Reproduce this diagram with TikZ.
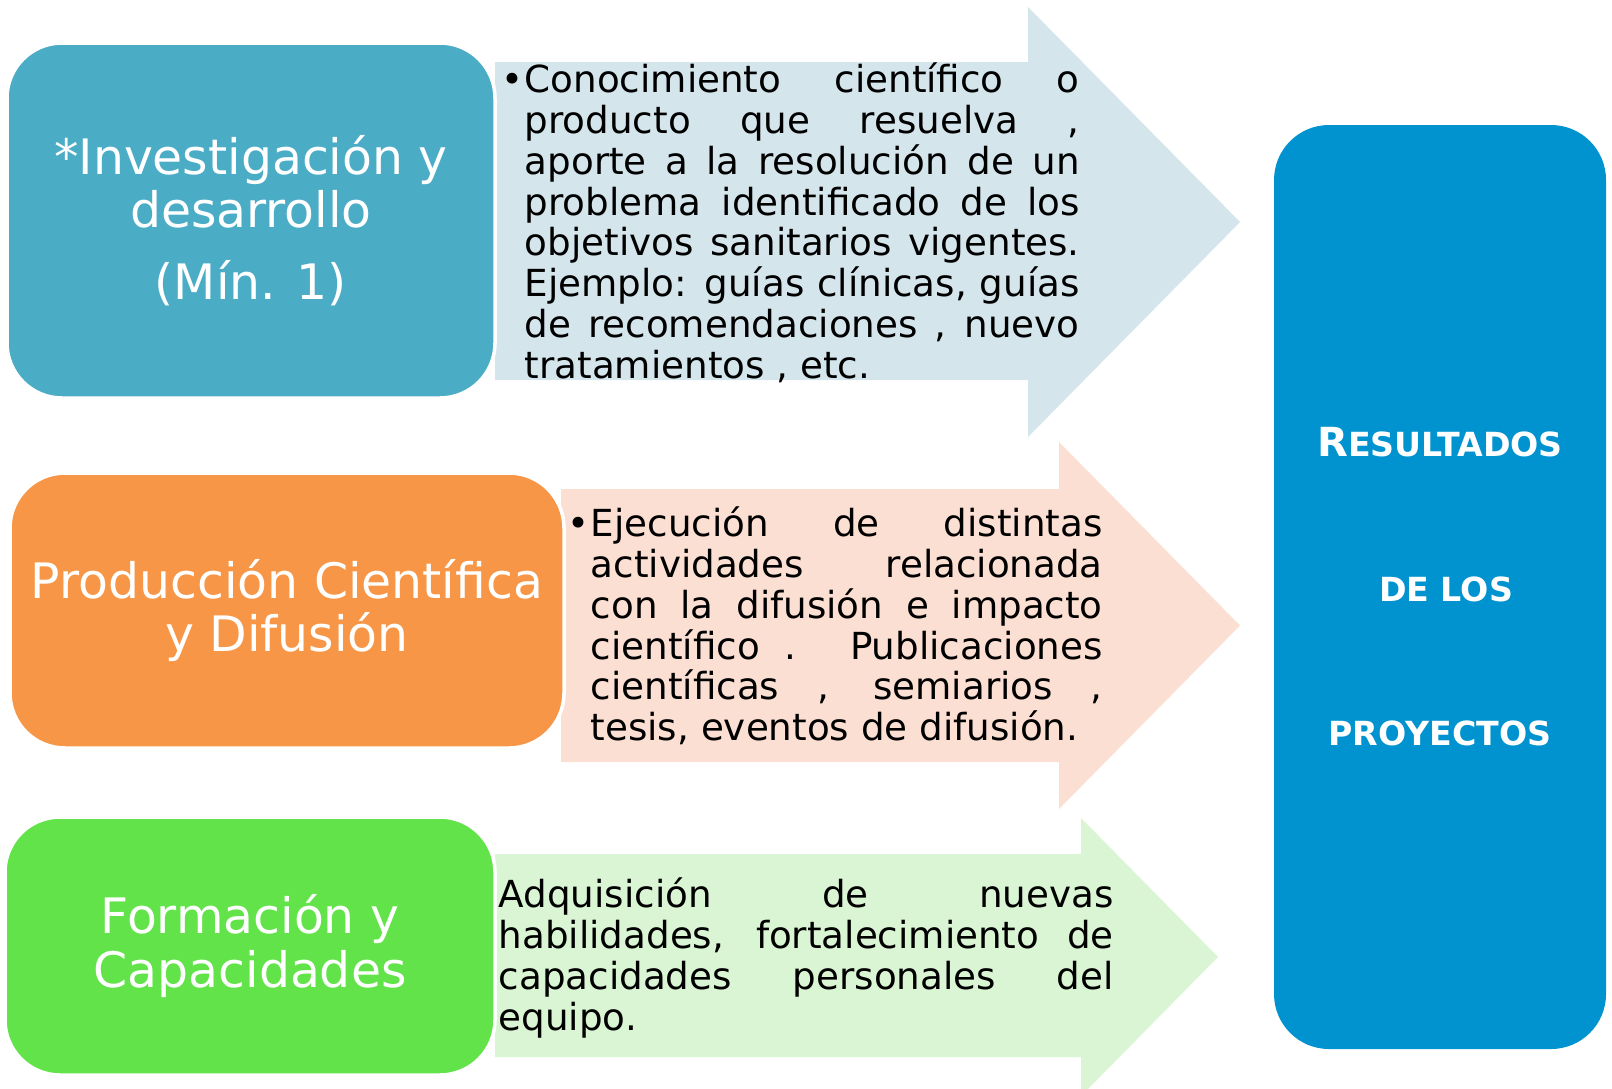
\documentclass[tikz,border=0pt]{standalone}
\usepackage{fontspec}
\setmainfont{DejaVu Sans}
\usetikzlibrary{positioning}

\definecolor{tealbox}{HTML}{4BACC6}
\definecolor{orangebox}{HTML}{F79646}
\definecolor{greenbox}{HTML}{62E34A}
\definecolor{bluebox}{HTML}{0093D0}
\definecolor{tealarrow}{HTML}{D4E5EC}
\definecolor{orangearrow}{HTML}{FCDFD3}
\definecolor{greenarrow}{HTML}{DAF5D3}
\hyphenpenalty=10000

\begin{document}
\begin{tikzpicture}[
		titlebox/.style={
			rectangle,
			draw=white,
			line width=1pt,
			rounded corners=0.55cm,
			text=white,
			align=center,
			inner sep=0pt,
			font=\fontsize{13.9}{15.1}\selectfont
		},
		desc/.style={
			anchor=north west,
			inner sep=0pt,
			align=justify,
			font=\fontsize{10.6}{11.6}\selectfont
		}
		]
		\useasboundingbox (0,0) rectangle (16.12,-10.88);

		% arrows behind the boxes
		\fill[tealarrow] (4.95,-0.62) -- (10.28,-0.62) -- (10.28,-0.07) -- (12.40,-2.22)
			-- (10.28,-4.37) -- (10.28,-3.80) -- (4.95,-3.80) -- cycle;
		\fill[orangearrow] (5.61,-4.89) -- (10.59,-4.89) -- (10.59,-4.42) -- (12.40,-6.255)
			-- (10.59,-8.09) -- (10.59,-7.62) -- (5.61,-7.62) -- cycle;
		\fill[greenarrow] (4.95,-8.54) -- (10.81,-8.54) -- (10.81,-8.18) -- (12.18,-9.57)
			-- (10.81,-10.96) -- (10.81,-10.57) -- (4.95,-10.57) -- cycle;

		\node[titlebox,fill=tealbox,minimum width=4.88cm,minimum height=3.55cm] (invest) at (2.51,-2.205)
			{*Investigación y\\desarrollo\\[0.19cm](Mín. 1)};
		\node[titlebox,fill=orangebox,minimum width=5.54cm,minimum height=2.75cm] (produc) at (2.87,-6.105)
			{Producción Científica\\y Difusión};
		\node[titlebox,fill=greenbox,minimum width=4.90cm,minimum height=2.58cm] (formac) at (2.50,-9.46)
			{Formación y\\Capacidades};

		\node[rectangle,
			  fill=bluebox,
			  rounded corners=0.55cm,
			  minimum width=3.32cm,
			  minimum height=9.24cm,
			  inner sep=0pt,
			  text=white,
			  align=center,
			  font=\bfseries\fontsize{9.45}{41.1}\selectfont] (result) at (14.40,-5.87)
			{{\fontsize{11.4}{41.1}\selectfont R}ESULTADOS\\\hspace*{0.12cm}DE LOS\\PROYECTOS};

		% texts on the arrows
		\node[desc,text width=5.55cm] (investtext) at (5.24,-0.624)
			{\strut\llap{\makebox[0.23cm][l]{•}}Conocimiento científico o\linebreak
			producto que resuelva ,\linebreak
			aporte a la resolución de un\linebreak
			problema identificado de los\linebreak
			objetivos sanitarios vigentes.\linebreak
			Ejemplo: guías clínicas, guías\linebreak
			de recomendaciones , nuevo\linebreak
			tratamientos , etc.};
		\node[desc,text width=5.12cm] (producttext) at (5.90,-5.064)
			{\strut\llap{\makebox[0.23cm][l]{•}}Ejecución de distintas\linebreak
			actividades relacionada\linebreak
			con la difusión e impacto\linebreak
			científico . Publicaciones\linebreak
			científicas , semiarios ,\linebreak
			tesis, eventos de difusión.};
		\node[desc,text width=6.15cm] (formactext) at (4.98,-8.774)
			{\strut Adquisición de nuevas\linebreak
			habilidades, fortalecimiento de\linebreak
			capacidades personales del\linebreak
			equipo.};
		\end{tikzpicture}
\end{document}
